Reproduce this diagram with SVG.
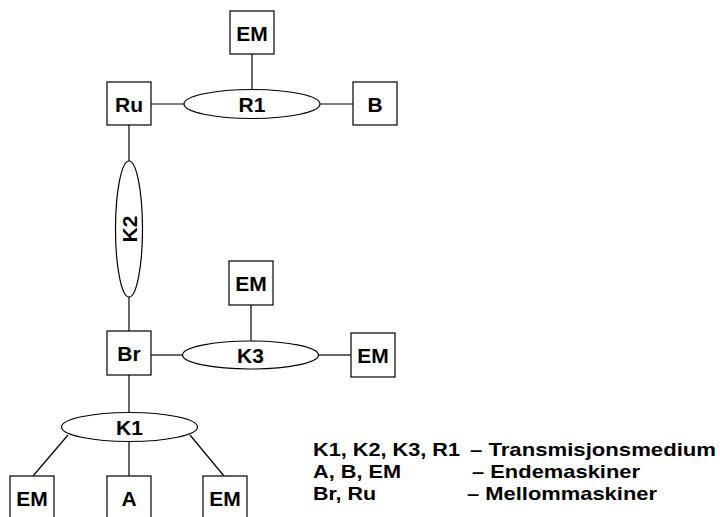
<svg xmlns="http://www.w3.org/2000/svg" width="720" height="517" viewBox="0 0 720 517">
  <style>
    .box { fill: #fff; stroke: #000; stroke-width: 1.2; }
    .med { fill: #fff; stroke: #000; stroke-width: 1.2; }
    .lbl { font-family: "Liberation Sans", Arial, sans-serif; font-weight: bold; font-size: 21px; text-anchor: middle; dominant-baseline: central; fill: #000; }
    .leg { font-family: "Liberation Sans", Arial, sans-serif; font-weight: bold; font-size: 19px; fill: #000; }
    .wire { stroke: #000; stroke-width: 1.2; fill: none; }
  </style>
  <rect width="720" height="517" fill="#fff"/>

  <!-- connectors -->
  <g id="connectors" class="wire">
    <line x1="151" y1="104" x2="184" y2="104"/>
    <line x1="252" y1="54" x2="252" y2="89"/>
    <line x1="320" y1="104" x2="353" y2="104"/>
    <line x1="129" y1="125" x2="129" y2="161"/>
    <line x1="129" y1="297" x2="129" y2="331"/>
    <line x1="151" y1="355" x2="182" y2="355"/>
    <line x1="251" y1="305" x2="251" y2="341"/>
    <line x1="319" y1="355" x2="351" y2="355"/>
    <line x1="129" y1="375" x2="129" y2="413"/>
    <line x1="68" y1="435" x2="33" y2="476"/>
    <line x1="129" y1="441" x2="129" y2="476"/>
    <line x1="190" y1="435" x2="224" y2="476"/>
  </g>

  <!-- transmission media -->
  <g id="R1"><ellipse class="med" cx="252" cy="104" rx="68" ry="14.5"/><text class="lbl" x="252" y="104">R1</text></g>
  <g id="K2"><ellipse class="med" cx="129" cy="229" rx="13.5" ry="68"/><text class="lbl" x="129" y="229" transform="rotate(-90 129 229)">K2</text></g>
  <g id="K3"><ellipse class="med" cx="250.5" cy="355" rx="68" ry="14"/><text class="lbl" x="250.5" y="355">K3</text></g>
  <g id="K1"><ellipse class="med" cx="129.5" cy="427" rx="68" ry="14.5"/><text class="lbl" x="129.5" y="427">K1</text></g>

  <!-- machines -->
  <g id="EM-top"><rect class="box" x="230" y="11" width="44" height="43"/><text class="lbl" x="252" y="33">EM</text></g>
  <g id="Ru"><rect class="box" x="107" y="82" width="44" height="43"/><text class="lbl" x="129" y="104">Ru</text></g>
  <g id="B"><rect class="box" x="353" y="82" width="44" height="43"/><text class="lbl" x="375" y="104">B</text></g>
  <g id="EM-mid"><rect class="box" x="229" y="261" width="44" height="44"/><text class="lbl" x="251" y="283">EM</text></g>
  <g id="Br"><rect class="box" x="107" y="331" width="44" height="44"/><text class="lbl" x="129" y="353">Br</text></g>
  <g id="EM-right"><rect class="box" x="351" y="333" width="44" height="44"/><text class="lbl" x="373" y="355">EM</text></g>
  <g id="EM-left-bottom"><rect class="box" x="10" y="476" width="44" height="44"/><text class="lbl" x="32" y="498">EM</text></g>
  <g id="A"><rect class="box" x="107" y="476" width="44" height="44"/><text class="lbl" x="129" y="498">A</text></g>
  <g id="EM-right-bottom"><rect class="box" x="203" y="476" width="44" height="44"/><text class="lbl" x="225" y="498">EM</text></g>

  <!-- legend -->
  <g id="legend" class="leg">
    <text x="313" y="455.5" textLength="147" lengthAdjust="spacingAndGlyphs">K1, K2, K3, R1</text>
    <text x="470" y="455.5" textLength="246" lengthAdjust="spacingAndGlyphs">– Transmisjonsmedium</text>
    <text x="313" y="477.5" textLength="88" lengthAdjust="spacingAndGlyphs">A, B, EM</text>
    <text x="472" y="477.5" textLength="168" lengthAdjust="spacingAndGlyphs">– Endemaskiner</text>
    <text x="313" y="499.5" textLength="63" lengthAdjust="spacingAndGlyphs">Br, Ru</text>
    <text x="467" y="499.5" textLength="190" lengthAdjust="spacingAndGlyphs">– Mellommaskiner</text>
  </g>
</svg>
